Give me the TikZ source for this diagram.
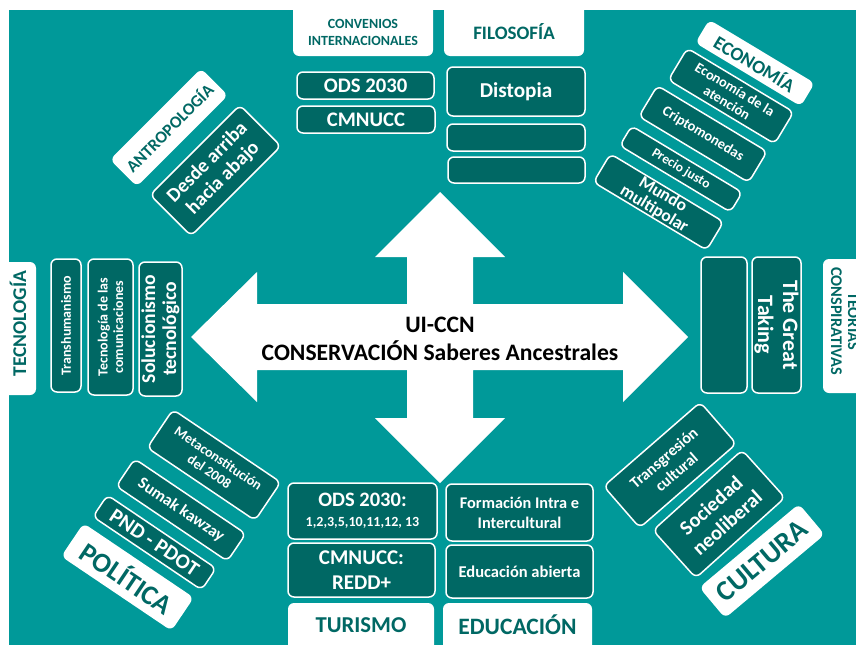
\documentclass[tikz,border=0pt]{standalone}
\usepackage{fontspec}
\setmainfont{Carlito}
\definecolor{sea}{HTML}{009999}
\definecolor{deepsea}{HTML}{006864}
\newcommand{\boxfont}[2]{\fontsize{#1}{#2}\selectfont\bfseries}

\begin{document}
\begin{tikzpicture}[x=1pt,y=-1pt,
  darkbox/.style={draw=white,line width=1.5pt,fill=deepsea,text=white,rounded corners=6pt,inner sep=0pt,align=center},
  lightbox/.style={fill=white,text=deepsea,rounded corners=6pt,inner sep=0pt,align=center},
  tag/.style={text=deepsea,inner sep=0pt,align=center}]
\clip (0,0) rectangle (856,645);
\fill[white] (0,0) rectangle (856,645);
\fill[sea] (9,10) rectangle (856,645);
% the cross of arrows
\fill[white] (440,192) -- (505,257) -- (473,257) -- (473,304) -- (623,304) -- (623,272) -- (688,337)
  -- (623,402) -- (623,370) -- (473,370) -- (473,418) -- (505,418) -- (440,483) -- (375,418)
  -- (407,418) -- (407,370) -- (257,370) -- (257,402) -- (191,337) -- (257,272) -- (257,304)
  -- (407,304) -- (407,257) -- (375,257) -- cycle;
\node[font=\boxfont{23.6}{28},align=center] (hub) at (440,339) {UI-CCN\\CONSERVACIÓN Saberes Ancestrales};

% top: convenios and filosofia
\node[lightbox,minimum width=140pt,minimum height=66pt,label={[tag,font=\boxfont{14}{17},yshift=-9.5pt]center:{CONVENIOS\\INTERNACIONALES}}] (convenios) at (363,23) {};
\node[lightbox,minimum width=140pt,minimum height=66pt,label={[tag,font=\boxfont{19}{21},yshift=-9pt]center:FILOSOFÍA}] (filosofia) at (514,23) {};
\node[darkbox,font=\boxfont{20.7}{22},minimum width=137pt,minimum height=27pt] (ods) at (365.5,85.5) {ODS 2030};
\node[darkbox,font=\boxfont{20.7}{22},minimum width=138pt,minimum height=27pt] (cmnucc) at (366,119.5) {CMNUCC};
\node[darkbox,font=\boxfont{21.2}{23},minimum width=138pt,minimum height=49pt] (distopia) at (516,91.5) {Distopia};
\node[darkbox,minimum width=138pt,minimum height=27pt] (filoA) at (516,137.5) {};
\node[darkbox,minimum width=137pt,minimum height=26pt] (filoB) at (516.5,170) {};

% top left: antropologia
\node[lightbox,font=\boxfont{17}{19},rotate=45,minimum width=129pt,minimum height=38pt] (antropologia) at (169,127.5) {ANTROPOLOGÍA};
\node[darkbox,font=\boxfont{19.8}{22},rotate=45,minimum width=127pt,minimum height=58pt] (arriba) at (215.5,170.5) {Desde arriba\\hacia abajo};

% top right: economia
\node[lightbox,font=\boxfont{19}{21},rotate=-31,minimum width=123pt,minimum height=27pt] (economia) at (755,63) {ECONOMÍA};
\node[darkbox,font=\boxfont{14.3}{15.5},rotate=-31,minimum width=124pt,minimum height=37pt] (atencion) at (731,96) {Economía de la\\atención};
\node[darkbox,font=\boxfont{14.5}{16},rotate=-31,minimum width=128pt,minimum height=36pt] (cripto) at (703,134) {Criptomonedas};
\node[darkbox,font=\boxfont{13.5}{15},rotate=-31,minimum width=129pt,minimum height=23pt] (precio) at (681,169) {Precio justo};
\node[darkbox,font=\boxfont{17.5}{17},rotate=-31,minimum width=132pt,minimum height=33pt] (mundo) at (658.5,202) {Mundo\\multipolar};

% left: tecnologia
\node[lightbox,minimum width=36pt,minimum height=133pt,label={[tag,font=\boxfont{19.5}{21},rotate=90,xshift=5pt]center:TECNOLOGÍA}] (tecnologia) at (18,328.5) {};
\node[darkbox,font=\boxfont{14}{16},rotate=90,minimum width=133pt,minimum height=30pt] (transhum) at (66,325.5) {Transhumanismo};
\node[darkbox,font=\boxfont{14}{15.5},rotate=90,minimum width=136pt,minimum height=45pt] (comunic) at (110.5,327) {Tecnología de las\\comunicaciones};
\node[darkbox,font=\boxfont{19.6}{21},rotate=90,minimum width=134pt,minimum height=43pt] (solucion) at (160.5,329) {Solucionismo\\tecnológico};

% right: teorias conspirativas
\node[lightbox,minimum width=47pt,minimum height=134pt,label={[tag,font=\boxfont{16.3}{17},rotate=-90,xshift=-5pt]center:{TEORÍAS\\CONSPIRATIVAS}}] (teorias) at (846.5,326) {};
\node[darkbox,rotate=-90,minimum width=136pt,minimum height=46pt] (teoriaA) at (724,325) {};
\node[darkbox,font=\boxfont{22}{25},rotate=-90,minimum width=136pt,minimum height=49pt] (taking) at (776.5,325) {The Great\\Taking};

% bottom left: politica
\node[darkbox,font=\boxfont{14}{16},rotate=-34,minimum width=130pt,minimum height=46pt] (meta) at (214,465) {Metaconstitución\\del 2008};
\node[darkbox,font=\boxfont{16.6}{18},rotate=-34,minimum width=134pt,minimum height=33pt] (sumak) at (181,510) {Sumak kawzay};
\node[darkbox,font=\boxfont{21}{22},rotate=-34,minimum width=131pt,minimum height=26pt] (pnd) at (154.5,542.5) {PND - PDOT};
\node[lightbox,font=\boxfont{27.5}{29},rotate=-34,minimum width=133pt,minimum height=40pt] (politica) at (127.5,577) {POLÍTICA};

% bottom: turismo and educacion
\node[darkbox,font=\boxfont{20.5}{20},minimum width=149pt,minimum height=56pt] (odsb) at (362.5,511) {ODS 2030:\\{\boxfont{14}{15}1,2,3,5,10,11,12, 13}};
\node[darkbox,font=\boxfont{21}{25},minimum width=147pt,minimum height=54pt] (redd) at (361.5,570) {CMNUCC:\\REDD+};
\node[lightbox,minimum width=146pt,minimum height=52pt,label={[tag,font=\boxfont{22.7}{24},yshift=4pt]center:TURISMO}] (turismo) at (361,629) {};
\node[darkbox,font=\boxfont{16.3}{20},minimum width=147pt,minimum height=57pt] (formacion) at (519.5,512.5) {Formación Intra e\\Intercultural};
\node[darkbox,font=\boxfont{16.5}{18},minimum width=147pt,minimum height=53pt] (abierta) at (519.5,571.5) {Educación abierta};
\node[lightbox,minimum width=149pt,minimum height=52pt,label={[tag,font=\boxfont{23.5}{25},yshift=4pt]center:EDUCACIÓN}] (educacion) at (517.5,629) {};

% bottom right: cultura
\node[darkbox,font=\boxfont{16}{19},rotate=41,minimum width=128pt,minimum height=55pt] (transgresion) at (670,465) {Transgresión\\cultural};
\node[darkbox,font=\boxfont{20.5}{24},rotate=42,minimum width=120pt,minimum height=64pt] (sociedad) at (719,514) {Sociedad\\neoliberal};
\node[lightbox,font=\boxfont{28.5}{30},rotate=40,minimum width=130pt,minimum height=40pt] (cultura) at (762,561) {CULTURA};
\end{tikzpicture}
\end{document}
